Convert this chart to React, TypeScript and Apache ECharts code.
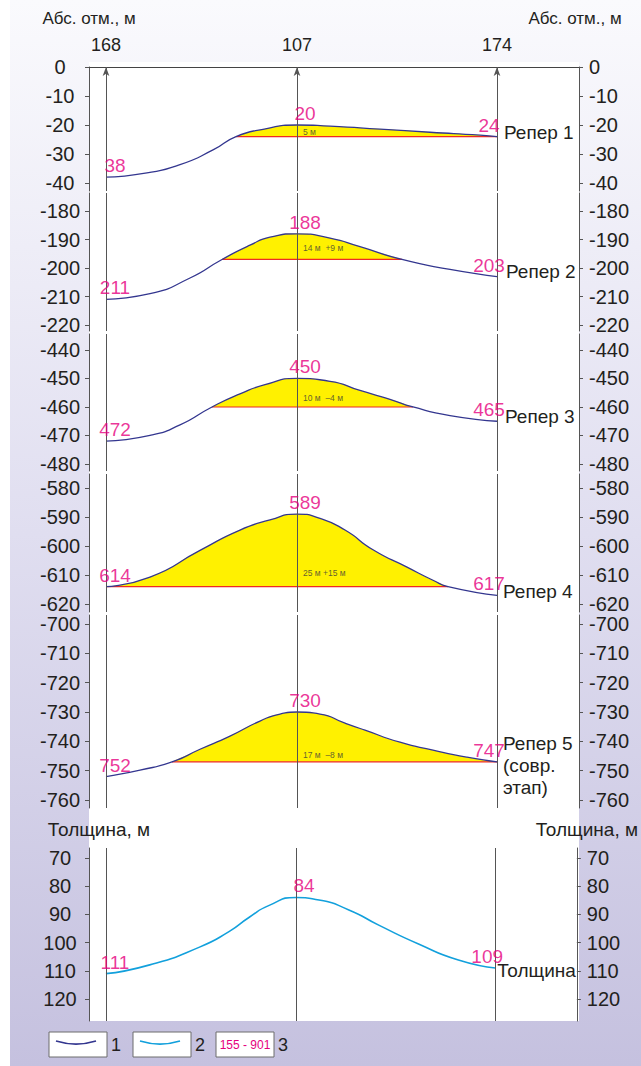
import React, { useEffect, useRef } from 'react';
import * as echarts from 'echarts';

// ---------- data ----------
const wellNames = ['168', '107', '174'];
const wellX = [17, 208, 408];

const panelNames = ['Репер 1', 'Репер 2', 'Репер 3', 'Репер 4', 'Репер 5\n(совр.\nэтап)', 'Толщина'];

const reper1X = [17, 58, 91, 124, 147, 174, 208, 241, 291, 341, 391, 408];
const reper1Y = [-38, -36.5, -33.7, -28.6, -24, -21.5, -20, -20.4, -21.4, -22.5, -23.5, -24];

const reper2X = [17, 61, 101, 133, 161, 181, 208, 241, 271, 313, 361, 408];
const reper2Y = [-211, -209, -203.5, -197, -192, -189.2, -188, -189.5, -192.5, -197, -200.5, -203];

const reper3X = [17, 61, 91, 123, 151, 176, 208, 241, 271, 301, 324, 361, 408];
const reper3Y = [-472, -470, -466.3, -460, -455.4, -452.2, -450, -451, -454.2, -457.3, -460, -463, -465];

const reper4X = [17, 61, 111, 151, 181, 208, 231, 256, 284, 318, 344, 359, 408];
const reper4Y = [-614, -610.7, -601.5, -594.5, -591, -589, -590.5, -594.5, -601.3, -607.3, -611.8, -614, -617];

const reper5X = [17, 51, 83, 111, 141, 171, 191, 208, 231, 256, 276, 311, 344, 378, 408];
const reper5Y = [-752, -749.8, -747, -742.7, -738.2, -733.1, -730.7, -730, -730.7, -733.8, -736.2, -740.3, -743, -745.4, -747];

const thicknessX = [17, 61, 111, 141, 161, 181, 208, 231, 261, 291, 331, 371, 408];
const thicknessY = [111, 107.9, 101.6, 96, 91, 86.8, 84, 84.9, 88.4, 93.8, 100.5, 106.2, 109];

const wellValues = [
  [-38, -20, -24],
  [-211, -188, -203],
  [-472, -450, -465],
  [-614, -589, -617],
  [-752, -730, -747],
  [111, 84, 109],
];

const closureLevel = [-24, -197, -460, -614, -747];
const closureFrom = [147, 133, 123, 17, 83];
const closureTo = [408, 313, 324, 359, 408];
const closureNotes = ['5 м', '14 м  +9 м', '10 м  –4 м', '25 м +15 м', '17 м  –8 м'];

const tickValues = [
  [0, -10, -20, -30, -40],
  [-180, -190, -200, -210, -220],
  [-440, -450, -460, -470, -480],
  [-580, -590, -600, -610, -620],
  [-700, -710, -720, -730, -740, -750, -760],
  [70, 80, 90, 100, 110, 120],
];

const legendItems = ['1', '2', '3'];
const legendSample = '155 - 901';

// ---------- layout / style ----------
const FONT = '"Liberation Sans", Arial, Helvetica, sans-serif';
const TEXT = '#231f20';
const MAGENTA = '#e6007e';
const CURVE = '#33368f';
const THICK = '#12a0dc';
const RED = '#ee2a24';
const YELLOW = '#fff100';
const SMOOTH = 0.6;

const gridTop = [67, 193, 334, 474, 615, 848];
const gridHeight = [124, 138, 137, 138, 193, 173];
const axisMin = [-42.76, -222.1, -482.46, -622.76, -762.73, 66.45];
const axisMax = [0, -173.68, -434.4, -575.17, -696.93, 127.8];
const xMin = 0;
const xMax = 490;

const labelOffsets = [[9, 0], [8, 0], [-8, 0]];
const endOffsets = [[0, -4], [0, -5], [0, -5], [0, -4], [0, 4], [0, 3]];
const endDistance = [7, 9, 8, 6, 6, 2];
const noteDy = [5, 11, 9, 14, 7];

const curveX = [reper1X, reper2X, reper3X, reper4X, reper5X, thicknessX];
const curveY = [reper1Y, reper2Y, reper3Y, reper4Y, reper5Y, thicknessY];

function buildOption() {
  const grid: any[] = [];
  const xAxis: any[] = [];
  const yAxis: any[] = [];
  const series: any[] = [];

  for (let i = 0; i < 6; i++) {
    grid.push({ left: 89, right: 62, top: gridTop[i], height: gridHeight[i], containLabel: false });
    xAxis.push(
      i === 0
        ? {
            type: 'value', gridIndex: i, min: xMin, max: xMax, position: 'top',
            axisLine: { show: true, onZero: false, lineStyle: { color: '#444', width: 1 } },
            axisTick: { show: false },
            splitLine: { show: false },
            axisLabel: {
              show: true, customValues: wellX, margin: 13, fontSize: 18, color: TEXT, fontFamily: FONT,
              formatter: (v: number) => wellNames[wellX.indexOf(v)] ?? '',
            },
          }
        : { type: 'value', gridIndex: i, min: xMin, max: xMax, show: false, splitLine: { show: false } }
    );
    for (const side of ['left', 'right']) {
      const isThick = i === 5;
      yAxis.push({
        type: 'value', gridIndex: i, position: side, min: axisMin[i], max: axisMax[i], inverse: isThick,
        axisLine: { show: true, onZero: false, lineStyle: { color: '#555', width: 1 } },
        axisTick: { show: true, customValues: tickValues[i], length: 4, lineStyle: { color: '#555' } },
        axisLabel: {
          show: true, customValues: tickValues[i], fontSize: 20, color: TEXT, fontFamily: FONT,
          margin: side === 'left' ? 29 : 10, align: side === 'left' ? 'center' : 'left',
        },
        splitLine: { show: false },
        name: i === 0 ? 'Абс. отм., м' : isThick ? 'Толщина, м' : '',
        nameLocation: isThick ? 'start' : 'end',
        nameGap: isThick ? 9 : 40,
        nameTextStyle: {
          fontSize: isThick ? 19 : 17, color: TEXT, fontFamily: FONT,
          padding: i === 0 ? (side === 'left' ? [0, 0, 0, 0] : [0, 8, 0, 0]) : [0, 0, 0, 20],
        },
      });
    }
  }

  for (let i = 0; i < 6; i++) {
    const xs = curveX[i];
    const ys = curveY[i];
    const pts = xs.map((x, k) => [x, ys[k]]);
    const yIdx = i * 2;

    if (i < 5) {
      const lvl = closureLevel[i];
      const area = pts.filter((p) => p[0] >= closureFrom[i] && p[0] <= closureTo[i]);
      series.push({
        type: 'line', xAxisIndex: i, yAxisIndex: yIdx, data: area, smooth: SMOOTH, symbol: 'none',
        lineStyle: { width: 0 }, areaStyle: { color: YELLOW, opacity: 1, origin: lvl }, z: 1, silent: true,
      });
      series.push({
        type: 'line', xAxisIndex: i, yAxisIndex: yIdx, data: [[closureFrom[i], lvl], [closureTo[i], lvl]],
        symbol: 'none', lineStyle: { color: RED, width: 1.2 }, z: 2, silent: true,
      });
      series.push({
        type: 'scatter', xAxisIndex: i, yAxisIndex: yIdx, data: [[wellX[1], lvl]], symbolSize: 0, z: 5, silent: true,
        label: {
          show: true, position: 'right', distance: 6, offset: [0, -noteDy[i]], formatter: closureNotes[i],
          fontSize: 8.5, color: '#3a3a3a', fontFamily: FONT,
        },
      });
    }

    series.push({
      type: 'line', name: panelNames[i], xAxisIndex: i, yAxisIndex: yIdx, data: pts, smooth: SMOOTH, symbol: 'none',
      lineStyle: { color: i === 5 ? THICK : CURVE, width: i === 5 ? 1.6 : 1.3 }, z: 3, silent: true,
      endLabel: {
        show: true, formatter: '{a}', distance: endDistance[i], offset: endOffsets[i], fontSize: 19,
        color: TEXT, fontFamily: FONT, lineHeight: 22, align: 'left',
      },
      markLine: {
        silent: true, animation: false,
        symbol: i === 0 ? ['none', 'arrow'] : ['none', 'none'], symbolSize: [5, 9],
        lineStyle: { color: '#555', width: 1, type: 'solid' }, label: { show: false },
        data: wellX.map((x) => ({ xAxis: x })),
      },
    });

    series.push({
      type: 'scatter', xAxisIndex: i, yAxisIndex: yIdx, symbolSize: 0, z: 6, silent: true,
      data: wellX.map((x, k) => ({
        value: [x, wellValues[i][k]],
        label: { offset: labelOffsets[k] },
      })),
      label: {
        show: true, position: 'top', distance: 2, fontSize: 19, color: MAGENTA, fontFamily: FONT,
        formatter: (p: any) => String(Math.abs(p.value[1])),
      },
    });
  }

  const legendY = 1032;
  const graphic: any[] = [
    {
      type: 'rect', z: -100, silent: true, shape: { x: 10, y: 0, width: 631, height: 1066 },
      style: {
        fill: new echarts.graphic.LinearGradient(0, 0, 0, 1, [
          { offset: 0, color: '#fafafd' },
          { offset: 0.5, color: '#e0def0' },
          { offset: 1, color: '#c5c1df' },
        ]),
      },
    },
    { type: 'rect', z: -99, silent: true, shape: { x: 89, y: 62, width: 490, height: 959 }, style: { fill: '#ffffff' } },
  ];
  const boxX = [49, 133, 216];
  legendItems.forEach((lab, k) => {
    graphic.push({
      type: 'rect', z: 10, shape: { x: boxX[k], y: legendY, width: 58, height: 25 },
      style: { fill: '#ffffff', stroke: '#6d6d6d', lineWidth: 1 },
    });
    if (k < 2) {
      graphic.push({
        type: 'bezierCurve', z: 11,
        shape: {
          x1: boxX[k] + 7, y1: legendY + 9, cpx1: boxX[k] + 20, cpy1: legendY + 13,
          cpx2: boxX[k] + 34, cpy2: legendY + 13, x2: boxX[k] + 47, y2: legendY + 9,
        },
        style: { stroke: k === 0 ? CURVE : THICK, lineWidth: 1.6, fill: 'none' },
      });
    } else {
      graphic.push({
        type: 'text', z: 11, x: boxX[k] + 29, y: legendY + 13,
        style: { text: legendSample, fill: MAGENTA, fontSize: 12, fontFamily: FONT, align: 'center', verticalAlign: 'middle' },
      });
    }
    graphic.push({
      type: 'text', z: 11, x: boxX[k] + 67, y: legendY + 13,
      style: { text: lab, fill: TEXT, fontSize: 18, fontFamily: FONT, align: 'center', verticalAlign: 'middle' },
    });
  });

  return {
    animation: false,
    backgroundColor: '#ffffff',
    textStyle: { fontFamily: FONT },
    grid, xAxis, yAxis, series, graphic,
  };
}

export default function App() {
  const ref = useRef<HTMLDivElement>(null);
  useEffect(() => {
    if (!ref.current) return;
    const chart = echarts.init(ref.current, null, { renderer: 'svg' });
    chart.setOption(buildOption() as any);
    return () => chart.dispose();
  }, []);
  return <div ref={ref} style={{ position: 'absolute', left: 0, top: 0, width: 641, height: 1066 }} />;
}
